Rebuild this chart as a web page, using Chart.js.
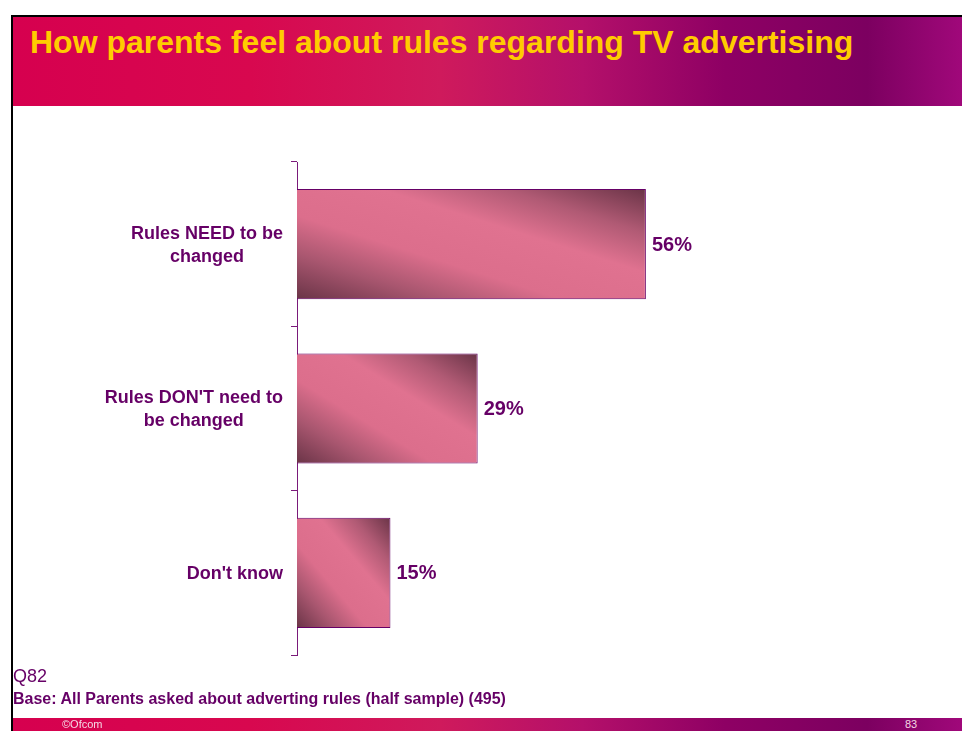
<!DOCTYPE html>
<html>
<head>
<meta charset="utf-8">
<script src="https://cdn.jsdelivr.net/npm/chart.js@4/dist/chart.umd.min.js"></script>
<style>
  html, body { margin: 0; padding: 0; background: #fff; }
  #slide { position: relative; width: 962px; height: 731px; overflow: hidden; background: #fff; font-family: "Liberation Sans", Arial, sans-serif; }
  #topline { position: absolute; left: 11px; top: 15px; width: 951px; height: 2px; background: #000; }
  #leftline { position: absolute; left: 11px; top: 15px; width: 2px; height: 716px; background: #000; }
  .band {
    position: absolute; left: 13px; width: 949px;
    background: linear-gradient(90deg, #d6004f 0%, #d8084f 25%, #cf1a5c 45%, #b4106a 60%, #8e0064 75%, #7c0060 90%, #a0087a 100%);
  }
  #header { top: 17px; height: 89px; }
  #footer { top: 718px; height: 13px; }
  #title { position: absolute; left: 30px; top: 23px; color: #ffcc00; font-weight: bold; font-size: 32px; line-height: 38px; white-space: nowrap; }
  #q { position: absolute; left: 13px; top: 666px; color: #660066; font-size: 18px; }
  #base { position: absolute; left: 13px; top: 690px; color: #660066; font-size: 16px; font-weight: bold; white-space: nowrap; }
  #ofcom { position: absolute; left: 62px; top: 718px; color: #f4d8e4; font-size: 11px; line-height: 13px; }
  #page { position: absolute; left: 905px; top: 718px; color: #f4d8e4; font-size: 11px; line-height: 13px; }
  #chartBox { position: absolute; left: 0; top: 106px; width: 962px; height: 612px; }
</style>
</head>
<body>
<div id="slide">
  <div class="band" id="header"></div>
  <div class="band" id="footer"></div>
  <div id="topline"></div>
  <div id="leftline"></div>
  <div id="title">How parents feel about rules regarding TV advertising</div>
  <div id="chartBox"><canvas id="chart" width="962" height="612"></canvas></div>
  <div id="q">Q82</div>
  <div id="base">Base: All Parents asked about adverting rules (half sample) (495)</div>
  <div id="ofcom">©Ofcom</div>
  <div id="page">83</div>
</div>
<script>
const categories = [
  ["Rules NEED to be", "changed"],
  ["Rules DON'T need to", "be changed"],
  ["Don't know"]
];
const values = [56, 29, 15];
const valueLabels = ["56%", "29%", "15%"];

const purple = "#660066";

// diagonal shading: dark bottom-left and top-right corners, pink across the middle
function barFill(ctx) {
  const chart = ctx.chart;
  if (!chart.chartArea || ctx.type !== "data") return "#e07290";
  const xs = chart.scales.x, ys = chart.scales.y;
  const meta = chart.getDatasetMeta(ctx.datasetIndex);
  const el = meta.data[ctx.dataIndex];
  const x0 = xs.getPixelForValue(0);
  const x1 = xs.getPixelForValue(ctx.raw);
  const yc = ys.getPixelForValue(ctx.dataIndex);
  const h = el && el.height ? el.height : 110;
  const w = x1 - x0;
  const yb = yc + h / 2;
  const k = 2 * w * h / (w * w + h * h);
  const g = chart.ctx.createLinearGradient(x0, yb, x0 + h * k, yb - w * k);
  g.addColorStop(0, "#6a3447");
  g.addColorStop(0.2, "#a8566f");
  g.addColorStop(0.38, "#dc6e8c");
  g.addColorStop(0.62, "#e07290");
  g.addColorStop(0.8, "#b05a74");
  g.addColorStop(1, "#6a3447");
  return g;
}

const labelPlugin = {
  id: "labels",
  afterDatasetsDraw(chart) {
    const c = chart.ctx;
    const xs = chart.scales.x, ys = chart.scales.y;
    c.save();
    c.fillStyle = purple;
    c.textBaseline = "middle";
    // category labels: block right-aligned to the axis, lines centred inside it
    c.font = "bold 18px 'Liberation Sans', Arial, sans-serif";
    categories.forEach((lines, i) => {
      const yc = ys.getPixelForValue(i) + 1;
      const wMax = Math.max(...lines.map(l => c.measureText(l).width));
      const cx = xs.left - 14 - wMax / 2;
      const lh = 23;
      c.textAlign = "center";
      lines.forEach((l, j) => {
        c.fillText(l, cx, yc + (j - (lines.length - 1) / 2) * lh);
      });
    });
    // value labels
    c.font = "bold 20px 'Liberation Sans', Arial, sans-serif";
    c.textAlign = "left";
    values.forEach((v, i) => {
      c.fillText(valueLabels[i], xs.getPixelForValue(v) + 6, ys.getPixelForValue(i) + 1);
    });
    c.restore();
  }
};

new Chart(document.getElementById("chart"), {
  type: "bar",
  data: {
    labels: categories,
    datasets: [{
      data: values,
      backgroundColor: barFill,
      borderColor: purple,
      borderWidth: 1,
      borderSkipped: "start",
      categoryPercentage: 1,
      barPercentage: 0.67
    }]
  },
  options: {
    indexAxis: "y",
    responsive: false,
    maintainAspectRatio: false,
    animation: false,
    layout: { padding: { left: 291, right: 42, top: 56, bottom: 63 } },
    plugins: { legend: { display: false }, tooltip: { enabled: false } },
    scales: {
      x: { display: false, min: 0, max: 100 },
      y: {
        ticks: { display: false },
        grid: { drawOnChartArea: false, drawTicks: true, tickLength: 6, color: "#7a1a7a", offset: true },
        border: { color: "#7a1a7a", width: 1 }
      }
    }
  },
  plugins: [labelPlugin]
});
</script>
</body>
</html>
